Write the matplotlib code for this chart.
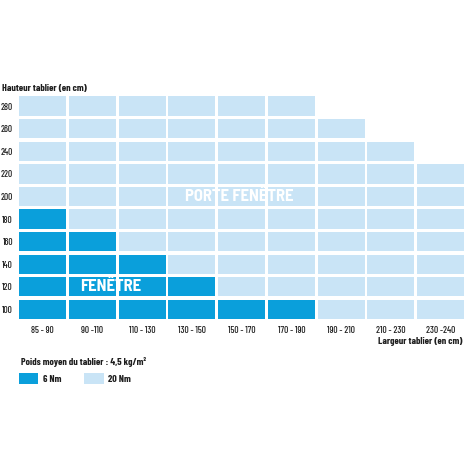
import matplotlib
matplotlib.use('Agg')
import matplotlib.pyplot as plt
from matplotlib.patches import Rectangle

cond = ['Barlow Condensed', 'Roboto Condensed', 'DejaVu Sans']
semi = ['Barlow Semi Condensed', 'Roboto Condensed', 'DejaVu Sans']
plt.rcParams['font.family'] = cond

# donnees du tableau
largeurs = ['85 - 90', '90 -110', '110 - 130', '130 - 150', '150 - 170',
            '170 - 190', '190 - 210', '210 - 230', '230 -240']
hauteurs = [100, 120, 140, 160, 180, 200, 220, 240, 260, 280]
# nombre de cases par hauteur (colonnes disponibles)
nb_cases = [9, 9, 9, 9, 9, 9, 9, 8, 7, 6]
# nombre de cases 6 Nm par hauteur
nb_6nm = [6, 4, 3, 2, 1, 0, 0, 0, 0, 0]

c_6nm = '#0a9fdb'
c_20nm = '#c9e4f6'
c_txt = '#1e1e1e'

W = H = 470
fig = plt.figure(figsize=(4.7, 4.7), dpi=100)

pitch_x = 49.75
pitch_y = 22.58
x0, y_bot = 19, 319
ax = fig.add_axes([x0 / W, (H - y_bot) / H, 9 * pitch_x / W, 10 * pitch_y / H])
ax.set_xlim(0, 9)
ax.set_ylim(0, 10)

cw = 47 / pitch_x
ch = 19.3 / pitch_y
for j, h in enumerate(hauteurs):
    for i in range(nb_cases[j]):
        col = c_6nm if i < nb_6nm[j] else c_20nm
        ax.bar(i, ch, width=cw, bottom=j, align='edge', color=col, linewidth=0)

ax.text(4.43, 5 + ch / 2, 'PORTE FENÊTRE', color='white', fontsize=12,
        fontweight='bold', ha='center', va='center', family=semi)
ax.text(1.84, 1 + ch / 2, 'FENÊTRE', color='white', fontsize=12,
        fontweight='bold', ha='center', va='center', family=semi)

ax.set_xticks([i + cw / 2 for i in range(9)])
ax.set_xticklabels(largeurs, fontsize=6.8, color=c_txt, fontweight='medium')
ax.set_yticks([j + ch / 2 for j in range(10)])
ax.set_yticklabels([str(h) for h in hauteurs], fontsize=6.8, color=c_txt,
                   fontweight='medium')
ax.tick_params(length=0)
ax.tick_params(axis='x', pad=5)
ax.tick_params(axis='y', pad=4.3)
for s in ax.spines.values():
    s.set_visible(False)

fig.text(2 / W, 1 - 89 / H, 'Hauteur tablier (en cm)', fontsize=7.2,
         fontweight='bold', color=c_txt, va='center')
fig.text(463 / W, 1 - 342 / H, 'Largeur tablier (en cm)', fontsize=7.2,
         fontweight='bold', color=c_txt, va='center', ha='right')
fig.text(21 / W, 1 - 362 / H, 'Poids moyen du tablier : 4,5 kg/m²', fontsize=7.2,
         fontweight='bold', color=c_txt, va='center')

fig.add_artist(Rectangle((19 / W, 1 - 384 / H), 19 / W, 11.5 / H,
                         transform=fig.transFigure, color=c_6nm, lw=0))
fig.add_artist(Rectangle((84 / W, 1 - 384 / H), 20 / W, 11.5 / H,
                         transform=fig.transFigure, color=c_20nm, lw=0))
fig.text(43 / W, 1 - 379 / H, '6 Nm', fontsize=7.2, fontweight='bold',
         color=c_txt, va='center')
fig.text(108 / W, 1 - 379 / H, '20 Nm', fontsize=7.2, fontweight='bold',
         color=c_txt, va='center')

fig.savefig('out.png', dpi=100)
